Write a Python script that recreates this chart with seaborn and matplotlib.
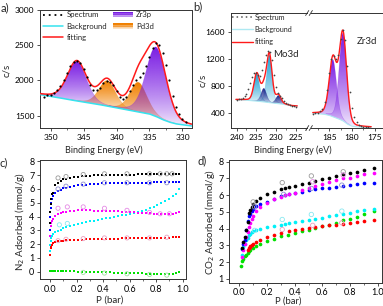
import numpy as np
import matplotlib
matplotlib.use('Agg')
import matplotlib.pyplot as plt
import seaborn as sns
from matplotlib.colors import to_rgb
from matplotlib.patches import Rectangle
from matplotlib.lines import Line2D
from matplotlib.legend_handler import HandlerBase
from matplotlib.ticker import MultipleLocator

# ---------------- a) Zr3p / Pd3d XPS ----------------
a_spec_x = [351.0, 350.5, 350.0, 349.5, 349.0, 348.5, 348.0, 347.5, 347.0, 346.5, 346.0,
            345.5, 345.0, 344.5, 344.0, 343.5, 343.0, 342.5, 342.0, 341.5, 341.0, 340.5,
            340.0, 339.5, 339.0, 338.5, 338.0, 337.5, 337.0, 336.5, 336.0, 335.5, 335.0,
            334.5, 334.0, 333.5, 333.0, 332.5, 332.0, 331.5, 331.0, 330.5, 330.0, 329.5]
a_spec_y = [1770, 1790, 1800, 1820, 1860, 1920, 2000, 2100, 2200, 2260, 2280,
            2250, 2170, 2050, 1940, 1870, 1860, 1900, 1960, 1990, 1980, 1930,
            1850, 1770, 1740, 1770, 1850, 1940, 2010, 2050, 2100, 2200, 2330,
            2460, 2530, 2500, 2390, 2220, 2000, 1780, 1630, 1520, 1450, 1410]
a_bg_x = [351.6, 349, 347, 345, 343, 341, 339, 337, 335, 334, 333, 332, 331, 329, 328.6]
a_bg_y = [1800, 1760, 1725, 1695, 1665, 1630, 1595, 1560, 1525, 1490, 1445, 1410, 1385, 1360, 1355]
zr3p_center = [346.0, 334.0]
zr3p_height = [560, 985]
zr3p_fwhm = [3.4, 3.6]
pd3d_center = [341.4, 336.7]
pd3d_height = [360, 420]
pd3d_fwhm = [3.0, 3.0]

# ---------------- b) Mo3d / Zr3d XPS ----------------
mo_spec_x = [240.0, 239.5, 239.0, 238.5, 238.0, 237.5, 237.0, 236.5, 236.0, 235.5, 235.0,
             234.5, 234.0, 233.5, 233.0, 232.5, 232.0, 231.5, 231.0, 230.5, 230.0, 229.5,
             229.0, 228.5, 228.0, 227.5, 227.0, 226.5, 226.0, 225.5, 225.0]
mo_spec_y = [600, 605, 612, 625, 650, 690, 760, 850, 940, 990, 1000,
             960, 950, 1030, 1150, 1260, 1320, 1300, 1180, 960, 780, 700,
             660, 620, 580, 550, 530, 520, 512, 505, 500]
mo_bg_x = [241.5, 238, 235, 232, 229, 226, 221.4]
mo_bg_y = [605, 595, 580, 560, 540, 510, 495]
mo_main_center = [234.9, 231.7]
mo_main_height = [400, 700]
mo_main_fwhm = [1.7, 1.6]
mo_minor_center = [233.1, 229.4]
mo_minor_height = [200, 120]
mo_minor_fwhm = [1.6, 1.5]

zr_spec_x = [188.5, 188.0, 187.5, 187.0, 186.5, 186.0, 185.5, 185.0, 184.5, 184.0, 183.5,
             183.0, 182.5, 182.0, 181.5, 181.0, 180.5, 180.0, 179.5, 179.0, 178.5, 178.0,
             177.5, 177.0, 176.5, 176.0]
zr_spec_y = [395, 400, 410, 430, 470, 560, 740, 1000, 1200, 1240, 1200,
             1260, 1500, 1620, 1480, 1100, 720, 480, 340, 270, 235, 215,
             205, 200, 195, 190]
zr_bg_x = [189.2, 187.5, 186, 185, 184, 183, 182, 181, 180, 179, 176, 173.3]
zr_bg_y = [400, 395, 385, 370, 345, 320, 290, 240, 210, 200, 195, 192]
zr3d_center = [184.2, 182.0]
zr3d_height = [840, 1290]
zr3d_fwhm = [1.9, 1.9]

# ---------------- c) N2 isotherms ----------------
p_c = [0.001, 0.003, 0.005, 0.007, 0.012, 0.02, 0.04, 0.06, 0.08, 0.10,
       0.12, 0.15, 0.18, 0.21, 0.24, 0.27, 0.30, 0.33, 0.36, 0.39,
       0.42, 0.45, 0.48, 0.51, 0.54, 0.57, 0.60, 0.63, 0.66, 0.69,
       0.72, 0.75, 0.78, 0.81, 0.84, 0.87, 0.90, 0.93, 0.95, 0.97]
n2_black = [3.5, 4.3, 4.9, 5.3, 5.6, 5.7, 6.3, 6.45, 6.6, 6.7,
            6.75, 6.82, 6.87, 6.9, 6.93, 6.95, 6.97, 6.98, 7.0, 7.0,
            7.01, 7.02, 7.02, 7.03, 7.03, 7.04, 7.04, 7.04, 7.05, 7.05,
            7.05, 7.05, 7.05, 7.06, 7.06, 7.06, 7.06, 7.06, 7.06, 7.07]
n2_blue = [3.0, 4.0, 4.6, 5.0, 5.3, 5.5, 5.7, 5.85, 5.95, 6.05,
           6.1, 6.17, 6.22, 6.26, 6.3, 6.32, 6.35, 6.37, 6.38, 6.4,
           6.41, 6.42, 6.43, 6.43, 6.44, 6.44, 6.45, 6.45, 6.45, 6.46,
           6.46, 6.46, 6.47, 6.47, 6.47, 6.47, 6.48, 6.48, 6.48, 6.48]
n2_magenta = [2.6, 3.0, 3.3, 3.5, 3.65, 3.8, 4.05, 4.15, 4.25, 4.3,
              4.35, 4.4, 4.42, 4.44, 4.45, 4.45, 4.44, 4.43, 4.42, 4.41,
              4.4, 4.39, 4.38, 4.37, 4.35, 4.34, 4.32, 4.3, 4.28, 4.27,
              4.25, 4.24, 4.22, 4.2, 4.18, 4.17, 4.17, 4.2, 4.28, 4.35]
n2_cyan = [1.5, 1.9, 2.2, 2.45, 2.6, 2.7, 2.85, 2.95, 3.05, 3.15,
           3.22, 3.32, 3.4, 3.47, 3.53, 3.59, 3.65, 3.7, 3.76, 3.81,
           3.86, 3.91, 3.97, 4.02, 4.08, 4.14, 4.2, 4.27, 4.34, 4.42,
           4.5, 4.6, 4.7, 4.82, 4.95, 5.1, 5.27, 5.48, 5.65, 6.0]
n2_red = [1.2, 1.5, 1.7, 1.85, 1.95, 2.05, 2.15, 2.2, 2.23, 2.25,
          2.27, 2.29, 2.31, 2.32, 2.33, 2.34, 2.35, 2.36, 2.37, 2.38,
          2.38, 2.39, 2.4, 2.4, 2.41, 2.42, 2.42, 2.43, 2.43, 2.44,
          2.44, 2.45, 2.45, 2.46, 2.46, 2.47, 2.47, 2.48, 2.49, 2.5]
n2_green = [0.05, 0.05, 0.05, 0.04, 0.04, 0.04, 0.03, 0.03, 0.03, 0.03,
            0.02, 0.02, 0.02, 0.01, 0.01, 0.0, 0.0, -0.01, -0.02, -0.03,
            -0.04, -0.05, -0.06, -0.07, -0.08, -0.09, -0.1, -0.11, -0.12, -0.13,
            -0.14, -0.15, -0.16, -0.17, -0.18, -0.19, -0.2, -0.18, -0.12, -0.05]
# open symbols (desorption)
n2_open_black_p = [0.06, 0.12, 0.25, 0.41, 0.58, 0.75, 0.83, 0.88, 0.92]
n2_open_black = [6.8, 6.9, 7.05, 7.1, 7.1, 7.1, 7.1, 7.1, 7.1]
n2_open_blue_p = [0.06, 0.12, 0.25, 0.41, 0.58, 0.75, 0.88]
n2_open_blue = [6.0, 6.2, 6.35, 6.45, 6.45, 6.45, 6.45]
n2_open_magenta_p = [0.06, 0.13, 0.25, 0.41, 0.58, 0.75, 0.83, 0.9]
n2_open_magenta = [4.6, 4.7, 4.7, 4.6, 4.45, 4.3, 4.2, 4.2]
n2_open_cyan_p = [0.07, 0.13]
n2_open_cyan = [3.4, 3.5]
n2_open_red_p = [0.06, 0.12, 0.25, 0.41, 0.58, 0.75, 0.88]
n2_open_red = [2.25, 2.35, 2.4, 2.45, 2.45, 2.45, 2.5]
n2_open_green_p = [0.25, 0.41, 0.58, 0.75, 0.88]
n2_open_green = [-0.05, -0.1, -0.15, -0.2, -0.25]

# ---------------- d) CO2 isotherms ----------------
p_d = [0.02, 0.03, 0.04, 0.05, 0.06, 0.07, 0.08, 0.09, 0.10, 0.12,
       0.15, 0.20, 0.25, 0.30, 0.33, 0.36, 0.40, 0.45, 0.50, 0.55,
       0.60, 0.65, 0.70, 0.75, 0.80, 0.85, 0.90, 0.97]
co2_black = [2.85, 3.2, 3.5, 3.9, 4.4, 4.95, 5.1, 5.3, 5.5, 5.65,
             5.85, 6.05, 6.2, 6.35, 6.45, 6.5, 6.55, 6.65, 6.7, 6.85,
             6.95, 7.05, 7.15, 7.25, 7.3, 7.4, 7.5, 7.6]
co2_magenta = [2.3, 2.7, 3.1, 3.5, 3.8, 4.1, 4.35, 4.6, 4.75, 5.05,
               5.3, 5.55, 5.75, 5.9, 6.0, 6.05, 6.15, 6.3, 6.4, 6.55,
               6.65, 6.8, 6.9, 7.0, 7.05, 7.15, 7.25, 7.35]
co2_blue = [2.8, 3.1, 3.3, 3.9, 4.45, 4.75, 4.9, 5.05, 5.2, 5.35,
            5.45, 5.6, 5.8, 5.95, 6.0, 6.05, 6.15, 6.2, 6.3, 6.35,
            6.4, 6.45, 6.5, 6.55, 6.6, 6.65, 6.7, 6.75]
co2_cyan = [2.45, 2.9, 3.1, 3.3, 3.45, 3.6, 3.7, 3.8, 3.85, 3.92,
            4.0, 4.1, 4.15, 4.25, 4.3, 4.35, 4.4, 4.45, 4.5, 4.6,
            4.65, 4.75, 4.8, 4.9, 4.95, 5.05, 5.1, 5.2]
p_d_red = [0.065, 0.07, 0.075, 0.08, 0.09, 0.10, 0.12, 0.15, 0.20, 0.25,
           0.30, 0.36, 0.40, 0.45, 0.50, 0.55, 0.60, 0.65, 0.70, 0.75,
           0.80, 0.85, 0.90, 0.97]
co2_red = [2.75, 2.85, 2.9, 2.95, 3.0, 3.1, 3.2, 3.3, 3.5, 3.65,
           3.75, 3.85, 3.9, 4.0, 4.05, 4.1, 4.15, 4.2, 4.25, 4.3,
           4.35, 4.4, 4.45, 4.5]
p_d_green = [0.01, 0.02, 0.03, 0.04, 0.05, 0.06, 0.07, 0.08, 0.10, 0.12,
             0.15, 0.20, 0.25, 0.30, 0.35, 0.40, 0.45, 0.50, 0.55, 0.60,
             0.65, 0.70, 0.75, 0.80, 0.85, 0.90, 0.97]
co2_green = [1.8, 2.05, 2.2, 2.35, 2.45, 2.55, 2.65, 2.7, 2.85, 2.95,
             3.1, 3.25, 3.4, 3.55, 3.65, 3.75, 3.85, 3.95, 4.05, 4.15,
             4.25, 4.35, 4.5, 4.6, 4.7, 4.85, 5.05]
co2_open_black_p = [0.10, 0.31, 0.52, 0.75]
co2_open_black = [5.6, 6.75, 7.15, 7.4]
co2_open_magenta_p = [0.53, 0.75]
co2_open_magenta = [6.8, 7.2]
co2_open_blue_p = [0.11, 0.32, 0.52, 0.74]
co2_open_blue = [5.3, 6.05, 6.4, 6.6]
co2_open_cyan_p = [0.11, 0.31, 0.52, 0.74]
co2_open_cyan = [3.9, 4.55, 4.85, 5.05]
co2_open_red_p = [0.31, 0.53, 0.74]
co2_open_red = [3.95, 4.2, 4.35]

# ---------------- style ----------------
sns.set_theme(style='ticks')
plt.rcParams['font.family'] = ['Lato', 'DejaVu Sans']
plt.rcParams.update({
    'axes.linewidth': 0.7, 'axes.edgecolor': '#333333',
    'xtick.major.width': 0.6, 'ytick.major.width': 0.6,
    'xtick.minor.width': 0.5, 'ytick.minor.width': 0.5,
    'xtick.major.size': 2.5, 'ytick.major.size': 2.5,
    'xtick.minor.size': 1.5, 'ytick.minor.size': 1.5,
    'xtick.major.pad': 1.5, 'ytick.major.pad': 1.5,
    'xtick.color': '#333333', 'ytick.color': '#333333',
    'xtick.labelcolor': 'black', 'ytick.labelcolor': 'black',
})

W, H = 383, 306
fig = plt.figure(figsize=(W / 100, H / 100), dpi=100)


def box(l, t, r, b):
    return [l / W, 1 - b / H, (r - l) / W, (b - t) / H]


def fx(px):
    return px / W


def fy(py):
    return 1 - py / H


def peak(x, c, h, w, eta=0.2):
    d = 4 * (x - c) ** 2 / w ** 2
    return h * (eta / (1 + d) + (1 - eta) * np.exp(-np.log(2) * d))


def grad_fill(ax, x, base, comp, color, z=2):
    m = comp > comp.max() * 0.012
    xs, lo, hi = x[m], base[m], base[m] + comp[m]
    poly = ax.fill_between(xs, lo, hi, color='none', lw=0)
    g = np.linspace(0, 1, 200)[:, None]
    img = np.ones((200, 1, 4))
    img[..., :3] = to_rgb(color)
    img[..., 3] = 0.05 + 0.95 * g ** 0.75
    im = ax.imshow(img, extent=[xs.min(), xs.max(), lo.min(), hi.max()],
                   origin='lower', aspect='auto', zorder=z, interpolation='bilinear')
    im.set_clip_path(poly.get_paths()[0], transform=ax.transData)
    ax.plot(xs, hi, color=color, lw=0.4, alpha=0.35, zorder=z)


class GradHandler(HandlerBase):
    def __init__(self, color):
        super().__init__()
        self.color = color

    def create_artists(self, legend, orig_handle, xdescent, ydescent, width, height, fontsize, trans):
        n = 8
        out = []
        for i in range(n):
            r = Rectangle((-xdescent, -ydescent + height * i / n), width, height / n + 0.2,
                          fc=self.color, ec='none', alpha=0.08 + 0.92 * ((i + 1) / n) ** 0.9,
                          transform=trans)
            out.append(r)
        return out


RED = '#ff1a1a'
CYAN = '#35e3ef'
PURPLE = '#7a1de3'
ORANGE = '#f08000'

# ---------------- panel a ----------------
ax_a = fig.add_axes(box(40, 10, 191.7, 128))
xa = np.linspace(351.6, 328.6, 600)
bga = np.interp(xa, a_bg_x[::-1], a_bg_y[::-1])
fit_a = bga.copy()
for c, h, w in zip(pd3d_center, pd3d_height, pd3d_fwhm):
    comp = peak(xa, c, h, w)
    fit_a += comp
    grad_fill(ax_a, xa, bga, comp, ORANGE, z=2)
for c, h, w in zip(zr3p_center, zr3p_height, zr3p_fwhm):
    comp = peak(xa, c, h, w)
    fit_a += comp
    grad_fill(ax_a, xa, bga, comp, PURPLE, z=2.1)
sns.lineplot(x=xa, y=bga, ax=ax_a, color=CYAN, lw=1.1, sort=False, estimator=None, zorder=4)
sns.lineplot(x=xa, y=fit_a, ax=ax_a, color=RED, lw=1.1, sort=False, estimator=None, zorder=5)
sns.scatterplot(x=a_spec_x, y=a_spec_y, ax=ax_a, color='black', s=2.5, linewidth=0, zorder=6)
ax_a.set_xlim(351.6, 328.6)
ax_a.set_ylim(1326, 3000)
ax_a.set_xticks([350, 345, 340, 335, 330])
ax_a.set_yticks([1500, 2000, 2500, 3000])
ax_a.xaxis.set_minor_locator(MultipleLocator(2.5))
ax_a.tick_params(labelsize=6)
h_zr = Rectangle((0, 0), 1, 1)
h_pd = Rectangle((0, 0), 1, 1)
handles = [Line2D([], [], color='black', ls=(0, (1, 2.2)), lw=1.3),
           Line2D([], [], color=CYAN, lw=1.1),
           Line2D([], [], color=RED, lw=1.1), h_zr, h_pd]
ax_a.legend(handles, ['Spectrum', 'Background', 'fitting', 'Zr3p', 'Pd3d'], ncol=2,
            loc='upper left', bbox_to_anchor=(0.0, 1.015), frameon=False, fontsize=5.6,
            handlelength=2.6, handletextpad=0.4, columnspacing=0.7, labelspacing=0.55,
            borderaxespad=0.2, borderpad=0.2,
            handler_map={h_zr: GradHandler(PURPLE), h_pd: GradHandler(ORANGE)})
fig.text(fx(7), fy(70), 'c/s', rotation=90, ha='center', va='center', fontsize=7)
fig.text(fx(104), fy(150), 'Binding Energy (eV)', ha='center', va='center', fontsize=6.5)
fig.text(fx(1), fy(8), 'a)', ha='left', va='center', fontsize=8)

# ---------------- panel b ----------------
ax_b1 = fig.add_axes(box(230.7, 13, 310, 128))
ax_b2 = fig.add_axes(box(310, 13, 382.7, 128))
MO_BLUE = '#1fa2d4'
MO_NAVY = '#101a86'
xb1 = np.linspace(241.5, 221.4, 500)
bgb1 = np.interp(xb1, mo_bg_x[::-1], mo_bg_y[::-1])
fit_b1 = bgb1.copy()
for c, h, w in zip(mo_main_center, mo_main_height, mo_main_fwhm):
    comp = peak(xb1, c, h, w)
    fit_b1 += comp
    grad_fill(ax_b1, xb1, bgb1, comp, MO_BLUE, z=2)
for c, h, w in zip(mo_minor_center, mo_minor_height, mo_minor_fwhm):
    comp = peak(xb1, c, h, w)
    fit_b1 += comp
    grad_fill(ax_b1, xb1, bgb1, comp, MO_NAVY, z=2.1)
m1 = (xb1 <= 240.2) & (xb1 >= 224.6)
sns.lineplot(x=xb1[m1], y=bgb1[m1], ax=ax_b1, color='#aee9f2', lw=0.8, sort=False, estimator=None, zorder=4)
sns.lineplot(x=xb1[m1], y=fit_b1[m1], ax=ax_b1, color=RED, lw=1.0, sort=False, estimator=None, zorder=5)
sns.scatterplot(x=mo_spec_x, y=mo_spec_y, ax=ax_b1, color='#444444', s=1.6, linewidth=0, zorder=6)

xb2 = np.linspace(189.2, 173.3, 500)
bgb2 = np.interp(xb2, zr_bg_x[::-1], zr_bg_y[::-1])
fit_b2 = bgb2.copy()
for c, h, w in zip(zr3d_center, zr3d_height, zr3d_fwhm):
    comp = peak(xb2, c, h, w)
    fit_b2 += comp
    grad_fill(ax_b2, xb2, bgb2, comp, PURPLE, z=2)
m2 = (xb2 <= 188.6) & (xb2 >= 175.8)
sns.lineplot(x=xb2[m2], y=bgb2[m2], ax=ax_b2, color='#aee9f2', lw=0.8, sort=False, estimator=None, zorder=4)
sns.lineplot(x=xb2[m2], y=fit_b2[m2], ax=ax_b2, color=RED, lw=1.0, sort=False, estimator=None, zorder=5)
sns.scatterplot(x=zr_spec_x, y=zr_spec_y, ax=ax_b2, color='#444444', s=1.6, linewidth=0, zorder=6)

for ax in (ax_b1, ax_b2):
    ax.set_ylim(184, 1875)
    ax.tick_params(labelsize=6)
    ax.xaxis.set_minor_locator(MultipleLocator(2.5))
ax_b1.set_xlim(241.5, 221.4)
ax_b2.set_xlim(189.2, 173.3)
ax_b1.set_xticks([240, 235, 230, 225])
ax_b2.set_xticks([185, 180, 175])
ax_b1.set_yticks([400, 800, 1200, 1600])
ax_b1.spines['right'].set_visible(False)
ax_b2.spines['left'].set_visible(False)
ax_b2.tick_params(axis='y', left=False, labelleft=False)
ax_b1.text(230.7, 1260, 'Mo3d', fontsize=7, ha='left', va='center')
ax_b2.text(179.0, 1460, 'Zr3d', fontsize=7, ha='left', va='center')
ax_b1.legend([Line2D([], [], color='#555555', ls=(0, (1, 2)), lw=1.1),
              Line2D([], [], color='#aee9f2', lw=1.0),
              Line2D([], [], color=RED, lw=1.0)],
             ['Spectrum', 'Background', 'fitting'], loc='upper left',
             bbox_to_anchor=(-0.02, 1.02), frameon=False, fontsize=5.2,
             handlelength=2.9, handletextpad=0.2, labelspacing=0.75,
             borderaxespad=0.2, borderpad=0.2)
# axis break marks
for yy in (13, 128):
    fig.add_artist(Rectangle((fx(307.5), fy(yy + 1.2)), 3.5 / W, 2.4 / H, fc='white', ec='none',
                             transform=fig.transFigure, zorder=10))
    for dx in (-1.8, 1.8):
        fig.add_artist(Line2D([fx(309 + dx - 1.6), fx(309 + dx + 1.6)], [fy(yy + 2.5), fy(yy - 2.5)],
                              color='#333333', lw=0.6, transform=fig.transFigure, zorder=11))
fig.text(fx(203), fy(80), 'c/s', rotation=90, ha='center', va='center', fontsize=7)
fig.text(fx(293), fy(150), 'Binding Energy (eV)', ha='center', va='center', fontsize=6.5)
fig.text(fx(193), fy(7), 'b)', ha='left', va='center', fontsize=8)

# ---------------- panel c ----------------
ax_c = fig.add_axes(box(40, 160, 186, 279))
c_series = [(n2_green, '#00e000'), (n2_red, '#ff0000'), (n2_cyan, '#00f0f8'),
            (n2_magenta, '#ff00ff'), (n2_blue, '#0000ff'), (n2_black, '#000000')]
for vals, col in c_series:
    sns.scatterplot(x=p_c, y=vals, ax=ax_c, marker='s', s=4, color=col, linewidth=0, zorder=3)
c_open = [(n2_open_black_p, n2_open_black, '#9a9a9a'), (n2_open_blue_p, n2_open_blue, '#8f8fd0'),
          (n2_open_magenta_p, n2_open_magenta, '#e58ae5'), (n2_open_cyan_p, n2_open_cyan, '#8ae8f0'),
          (n2_open_red_p, n2_open_red, '#eaa0c0'), (n2_open_green_p, n2_open_green, '#9ee09e')]
for px_, vals, col in c_open:
    sns.scatterplot(x=px_, y=vals, ax=ax_c, marker='o', s=9, color='none', edgecolor=col,
                    linewidth=0.6, zorder=4)
ax_c.set_xlim(-0.076, 1.025)
ax_c.set_ylim(-0.53, 8.1)
ax_c.set_xticks([0.0, 0.2, 0.4, 0.6, 0.8, 1.0])
ax_c.set_yticks(range(0, 9))
ax_c.xaxis.set_minor_locator(MultipleLocator(0.1))
ax_c.tick_params(labelsize=6.5)
fig.text(fx(20), fy(222), 'N$_2$ Adsorbed (mmol/g)', rotation=90, ha='center', va='center', fontsize=7)
fig.text(fx(110), fy(300), 'P (bar)', ha='center', va='center', fontsize=7)
fig.text(fx(0), fy(163), 'c)', ha='left', va='center', fontsize=8)

# ---------------- panel d ----------------
ax_d = fig.add_axes(box(229.3, 160, 382, 282.5))
d_series = [(p_d_green, co2_green, '#00e000'), (p_d_red, co2_red, '#ff0000'),
            (p_d, co2_cyan, '#00f0f8'), (p_d, co2_blue, '#0000ff'),
            (p_d, co2_magenta, '#ff00ff'), (p_d, co2_black, '#000000')]
for px_, vals, col in d_series:
    sns.scatterplot(x=px_, y=vals, ax=ax_d, marker='o', s=7, color=col, linewidth=0, zorder=3)
d_open = [(co2_open_black_p, co2_open_black, '#9a9a9a'), (co2_open_magenta_p, co2_open_magenta, '#e58ae5'),
          (co2_open_blue_p, co2_open_blue, '#8f8fd0'), (co2_open_cyan_p, co2_open_cyan, '#8ae8f0'),
          (co2_open_red_p, co2_open_red, '#eaa0c0')]
for px_, vals, col in d_open:
    sns.scatterplot(x=px_, y=vals, ax=ax_d, marker='o', s=10, color='none', edgecolor=col,
                    linewidth=0.6, zorder=4)
ax_d.set_xlim(-0.072, 1.03)
ax_d.set_ylim(0.79, 8.1)
ax_d.set_xticks([0.0, 0.2, 0.4, 0.6, 0.8, 1.0])
ax_d.set_yticks(range(1, 9))
ax_d.xaxis.set_minor_locator(MultipleLocator(0.1))
ax_d.tick_params(labelsize=6.5)
fig.text(fx(210), fy(222), 'CO$_2$ Adsorbed (mmol/g)', rotation=90, ha='center', va='center', fontsize=7)
fig.text(fx(288), fy(301), 'P (bar)', ha='center', va='center', fontsize=6.8)
fig.text(fx(198), fy(161), 'd)', ha='left', va='center', fontsize=8)

fig.savefig('out.png', dpi=100)
